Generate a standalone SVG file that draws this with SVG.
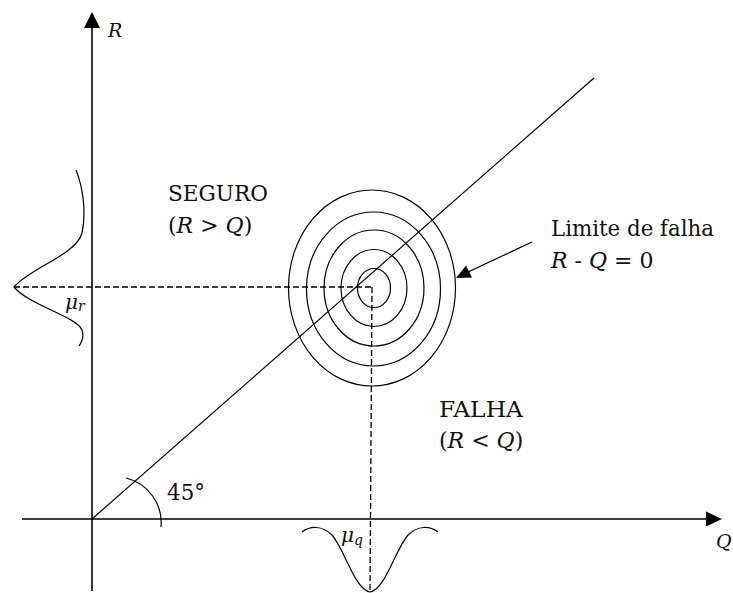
<svg xmlns="http://www.w3.org/2000/svg" width="733" height="593" viewBox="0 0 733 593">
<style>
.ln{fill:none;stroke:#000;stroke-width:1.2}
.ax{fill:none;stroke:#000;stroke-width:1.6}
.dash{fill:none;stroke:#000;stroke-width:1.3;stroke-dasharray:6 3}
text{font-family:'DejaVu Serif','Liberation Serif',serif;fill:#111;font-size:23px}
.m{font-size:22px}
.i{font-style:italic}
</style>
<rect width="733" height="593" fill="#fff"/>
<g id="connectors">
<line class="ax" x1="92" y1="591" x2="92" y2="26"/>
<polygon points="92,12 84,28 100,28" fill="#000"/>
<line class="ax" x1="22" y1="519" x2="708" y2="519"/>
<polygon points="722,519 706,511.5 706,526.5" fill="#000"/>
<line class="ln" x1="92" y1="519" x2="594" y2="78" stroke-width="1"/>
<line class="dash" x1="14" y1="287" x2="373" y2="287"/>
<line class="dash" x1="372" y1="287" x2="370" y2="592"/>
<path class="ln" d="M 126 478 A 46 46 0 0 1 161 527"/>
<line class="ln" x1="532" y1="242" x2="468" y2="272"/>
<polygon points="456,278 466,265.5 472,277.5" fill="#000"/>
</g>
<g id="limit-ellipses">
<ellipse class="ln" cx="374" cy="288" rx="16.5" ry="19.5"/>
<ellipse class="ln" cx="374" cy="288" rx="33" ry="38.5"/>
<ellipse class="ln" cx="374" cy="288" rx="50" ry="58"/>
<ellipse class="ln" cx="373.5" cy="289" rx="67" ry="77"/>
<ellipse class="ln" cx="372" cy="288" rx="83.5" ry="98"/>
</g>
<g id="pdf-r">
<path class="ln" d="M 76 170 C 84 190, 86 215, 82 233 C 76 255, 30 268, 14 287 C 30 306, 76 316, 82 330 C 84 336, 82 342, 79 346"/>
<text x="65" y="309" class="i" style="font-size:20px">μ<tspan style="font-size:14px" dy="2">r</tspan></text>
</g>
<g id="pdf-q">
<path class="ln" d="M 302 532 C 310 526, 322 525, 332 535 C 345 550, 355 590, 370 592 C 385 590, 395 550, 408 535 C 418 525, 430 526, 438 532"/>
<text x="341" y="542" class="i" style="font-size:20px">μ<tspan style="font-size:14px" dy="3">q</tspan></text>
</g>
<g id="axis-labels">
<text x="108" y="37" class="i" style="font-size:19px">R</text>
<text x="716" y="548" class="i" style="font-size:19px">Q</text>
<text x="167" y="500" textLength="38" lengthAdjust="spacingAndGlyphs">45°</text>
</g>
<g id="seguro">
<text x="168" y="201" textLength="100" lengthAdjust="spacingAndGlyphs">SEGURO</text>
<text x="168" y="233" class="m">(<tspan class="i">R</tspan> &gt; <tspan class="i">Q</tspan>)</text>
</g>
<g id="falha">
<text x="439" y="417" textLength="84" lengthAdjust="spacingAndGlyphs">FALHA</text>
<text x="439" y="448" class="m">(<tspan class="i">R</tspan> &lt; <tspan class="i">Q</tspan>)</text>
</g>
<g id="limite">
<text x="551" y="236" textLength="163" lengthAdjust="spacingAndGlyphs">Limite de falha</text>
<text x="551" y="268" class="m"><tspan class="i">R</tspan> - <tspan class="i">Q</tspan> = 0</text>
</g>
</svg>
